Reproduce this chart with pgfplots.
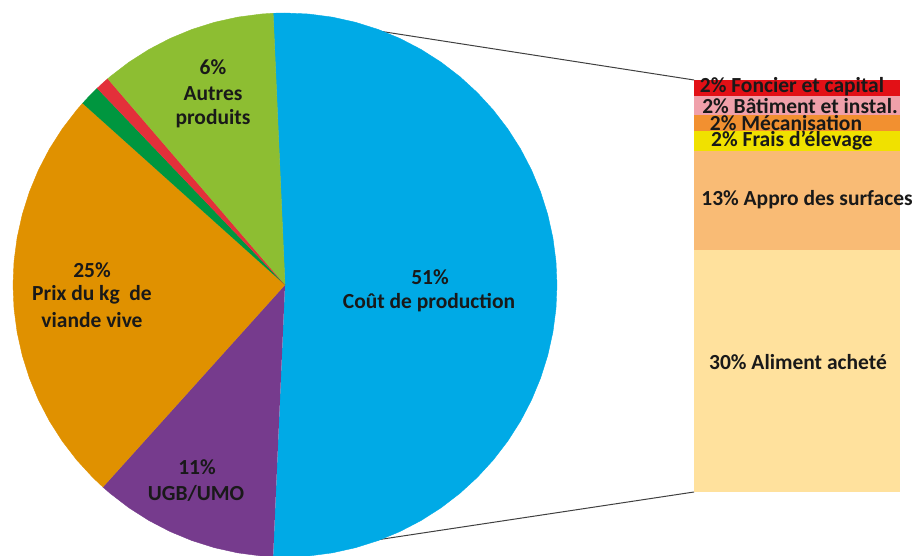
\documentclass[border=0pt]{standalone}
\usepackage{fontspec}
\setmainfont{Carlito}
\usepackage{pgfplots}
\pgfplotsset{compat=1.18}
\definecolor{cBlue}{RGB}{0,170,230}
\definecolor{cPurple}{RGB}{118,59,141}
\definecolor{cOrange}{RGB}{224,145,0}
\definecolor{cGreen}{RGB}{0,150,63}
\definecolor{cRed}{RGB}{227,48,58}
\definecolor{cLGreen}{RGB}{141,190,50}
\definecolor{bRed}{RGB}{226,16,22}
\definecolor{bPink}{RGB}{240,160,170}
\definecolor{bOrange}{RGB}{242,144,48}
\definecolor{bYellow}{RGB}{240,225,0}
\definecolor{bLOrange}{RGB}{249,187,117}
\definecolor{bLYellow}{RGB}{255,225,157}
\begin{document}
\begin{tikzpicture}
\useasboundingbox (0,0) rectangle (915pt,556pt);
% ---- bar of the "Coût de production" breakdown (in % units)
\begin{axis}[at={(0,0)}, anchor=south west, scale only axis,
  width=915pt, height=556pt, xmin=0, xmax=915, ymin=-7.923, ymax=60.906,
  hide axis, ybar stacked, bar width=206pt]
\addplot[fill=bLYellow, draw=none] coordinates {(797,30)};    % Aliment acheté
\addplot[fill=bLOrange, draw=none] coordinates {(797,12.25)}; % Appro des surfaces
\addplot[fill=bYellow, draw=none] coordinates {(797,2.45)};   % Frais d'élevage
\addplot[fill=bOrange, draw=none] coordinates {(797,2)};      % Mécanisation
\addplot[fill=bPink, draw=none] coordinates {(797,2.3)};      % Bâtiment et instal.
\addplot[fill=bRed, draw=none] coordinates {(797,2)};         % Foncier et capital
\end{axis}
% ---- pie (polar data: angle in degrees, radius)
\begin{axis}[at={(0,0)}, anchor=south west, scale only axis,
  width=915pt, height=556pt, xmin=-285, xmax=630, ymin=-271, ymax=285,
  hide axis, clip=true]
% connector lines
\addplot[color=black!75, line width=1pt] coordinates {(55,260) (409,205)};
\addplot[color=black!75, line width=1pt] coordinates {(45,-262) (409,-207)};
% 51.4% Coût de production
\addplot[fill=cBlue, draw=cBlue, line width=0.4pt, data cs=polar] coordinates {
(0,0) (92.5,272) (90,272) (85,272) (80,272) (75,272) (70,272) (65,272) (60,272)
(55,272) (50,272) (45,272) (40,272) (35,272) (30,272) (25,272) (20,272) (15,272)
(10,272) (5,272) (0,272) (-5,272) (-10,272) (-15,272) (-20,272) (-25,272)
(-30,272) (-35,272) (-40,272) (-45,272) (-50,272) (-55,272) (-60,272) (-65,272)
(-70,272) (-75,272) (-80,272) (-85,272) (-90,272) (-92.5,272)};
% 11.0% UGB/UMO
\addplot[fill=cPurple, draw=cPurple, line width=0.4pt, data cs=polar] coordinates {
(0,0) (228,272) (230,272) (235,272) (240,272) (245,272) (250,272) (255,272)
(260,272) (265,272) (267.5,272)};
% 25.0% Prix du kg de viande vive
\addplot[fill=cOrange, draw=cOrange, line width=0.4pt, data cs=polar] coordinates {
(0,0) (138.1,272) (140,272) (145,272) (150,272) (155,272) (160,272) (165,272)
(170,272) (175,272) (180,272) (185,272) (190,272) (195,272) (200,272) (205,272)
(210,272) (215,272) (220,272) (225,272) (228,272)};
% 1.2%
\addplot[fill=cGreen, draw=cGreen, line width=0.4pt, data cs=polar] coordinates {
(0,0) (133.7,272) (136,272) (138.1,272)};
% 0.8%
\addplot[fill=cRed, draw=cRed, line width=0.4pt, data cs=polar] coordinates {
(0,0) (130.7,272) (132,272) (133.7,272)};
% 10.6% Autres produits
\addplot[fill=cLGreen, draw=cLGreen, line width=0.4pt, data cs=polar] coordinates {
(0,0) (92.5,272) (95,272) (100,272) (105,272) (110,272) (115,272) (120,272)
(125,272) (130,272) (130.7,272)};
% labels
\begin{scope}[every node/.style={font=\fontsize{21.5}{24}\selectfont\bfseries, text=black!90, inner sep=0pt}]
\node at (axis cs:145,8) {51\%};
\node at (axis cs:144,-18) {Coût de production};
\node at (axis cs:-72,218) {6\%};
\node at (axis cs:-72,191) {Autres};
\node at (axis cs:-72,166) {produits};
\node at (axis cs:-193,15) {25\%};
\node at (axis cs:-193,-10) {Prix du kg\ \ de};
\node at (axis cs:-193,-35) {viande vive};
\node at (axis cs:-88,-182) {11\%};
\node at (axis cs:-89,-208) {UGB/UMO};
\node at (axis cs:507,198) {2\% Foncier et capital};
\node at (axis cs:515,179) {2\% Bâtiment et instal.};
\node at (axis cs:501,162) {2\% Mécanisation};
\node at (axis cs:507,144) {2\% Frais d\char"27élevage};
\node at (axis cs:522,85) {13\% Appro des surfaces};
\node at (axis cs:513,-77) {30\% Aliment acheté};
\end{scope}
\end{axis}
\end{tikzpicture}
\end{document}
